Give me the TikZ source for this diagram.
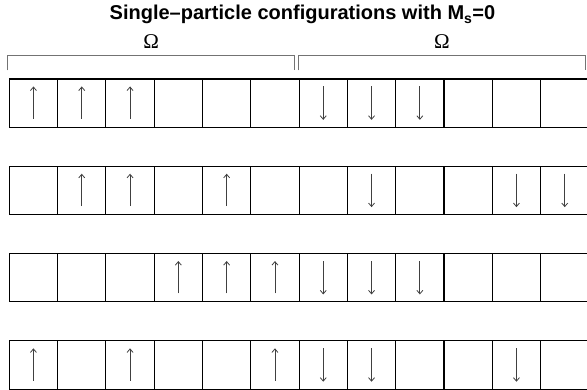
\documentclass[tikz,border=0pt]{standalone}
\usepackage{fontspec}
\setmainfont{Liberation Serif}
\setsansfont{Liberation Sans}
\usetikzlibrary{arrows.meta}

\begin{document}
\begin{tikzpicture}[
    x=1pt, y=1pt,
    >={Straight Barb[length=3.5pt,width=6pt]},
    cell/.style={draw, line width=1.1pt, minimum size=48.3pt, inner sep=0pt},
    spin/.style={->, line width=0.8pt, black!75},
    bracket/.style={black!55, line width=1pt}
]
    \useasboundingbox (0,0) rectangle (587,390);

    % Title
    \node[anchor=base] (title) at (302.5,370) {\sffamily\bfseries\fontsize{20}{24}\selectfont Single--particle configurations with M\textsubscript{s}=0};

    % Cells, four rows of twelve orbitals
    \foreach \r/\rowy in {1/311, 2/223.7, 3/136.4, 4/49.1}
        \foreach \c in {1,...,12}
            \node[cell] (c\r-\c) at ({9.3+48.3*(\c-0.5)}, \rowy-24.15) {};

    % Spin up
    \foreach \r/\c in {1/1,1/2,1/3, 2/2,2/3,2/5, 3/4,3/5,3/6, 4/1,4/3,4/6}
        \draw[spin] ([yshift=9pt]c\r-\c.south) -- ([yshift=-8pt]c\r-\c.north);

    % Spin down
    \foreach \r/\c in {1/7,1/8,1/9, 2/8,2/11,2/12, 3/7,3/8,3/9, 4/7,4/8,4/11}
        \draw[spin] ([yshift=-8pt]c\r-\c.north) -- ([yshift=8pt]c\r-\c.south);

    % Brackets over both halves
    \coordinate (bl1) at ([shift={(-1,8)}]c1-1.north west);
    \coordinate (br1) at ([shift={(-5,8)}]c1-6.north east);
    \coordinate (bl2) at ([shift={(0,8)}]c1-7.north west);
    \coordinate (br2) at ([shift={(-4,8)}]c1-12.north east);
    \draw[bracket] (bl1) -- ++(0,15) coordinate (tl1) -- (tl1 -| br1)
        node[midway, above=3.5pt, black, font=\fontsize{21}{24}\selectfont] (omega1) {Ω} -- (br1);
    \draw[bracket] (bl2) -- ++(0,15) coordinate (tl2) -- (tl2 -| br2)
        node[midway, above=3.5pt, black, font=\fontsize{21}{24}\selectfont] (omega2) {Ω} -- (br2);
\end{tikzpicture}
\end{document}
